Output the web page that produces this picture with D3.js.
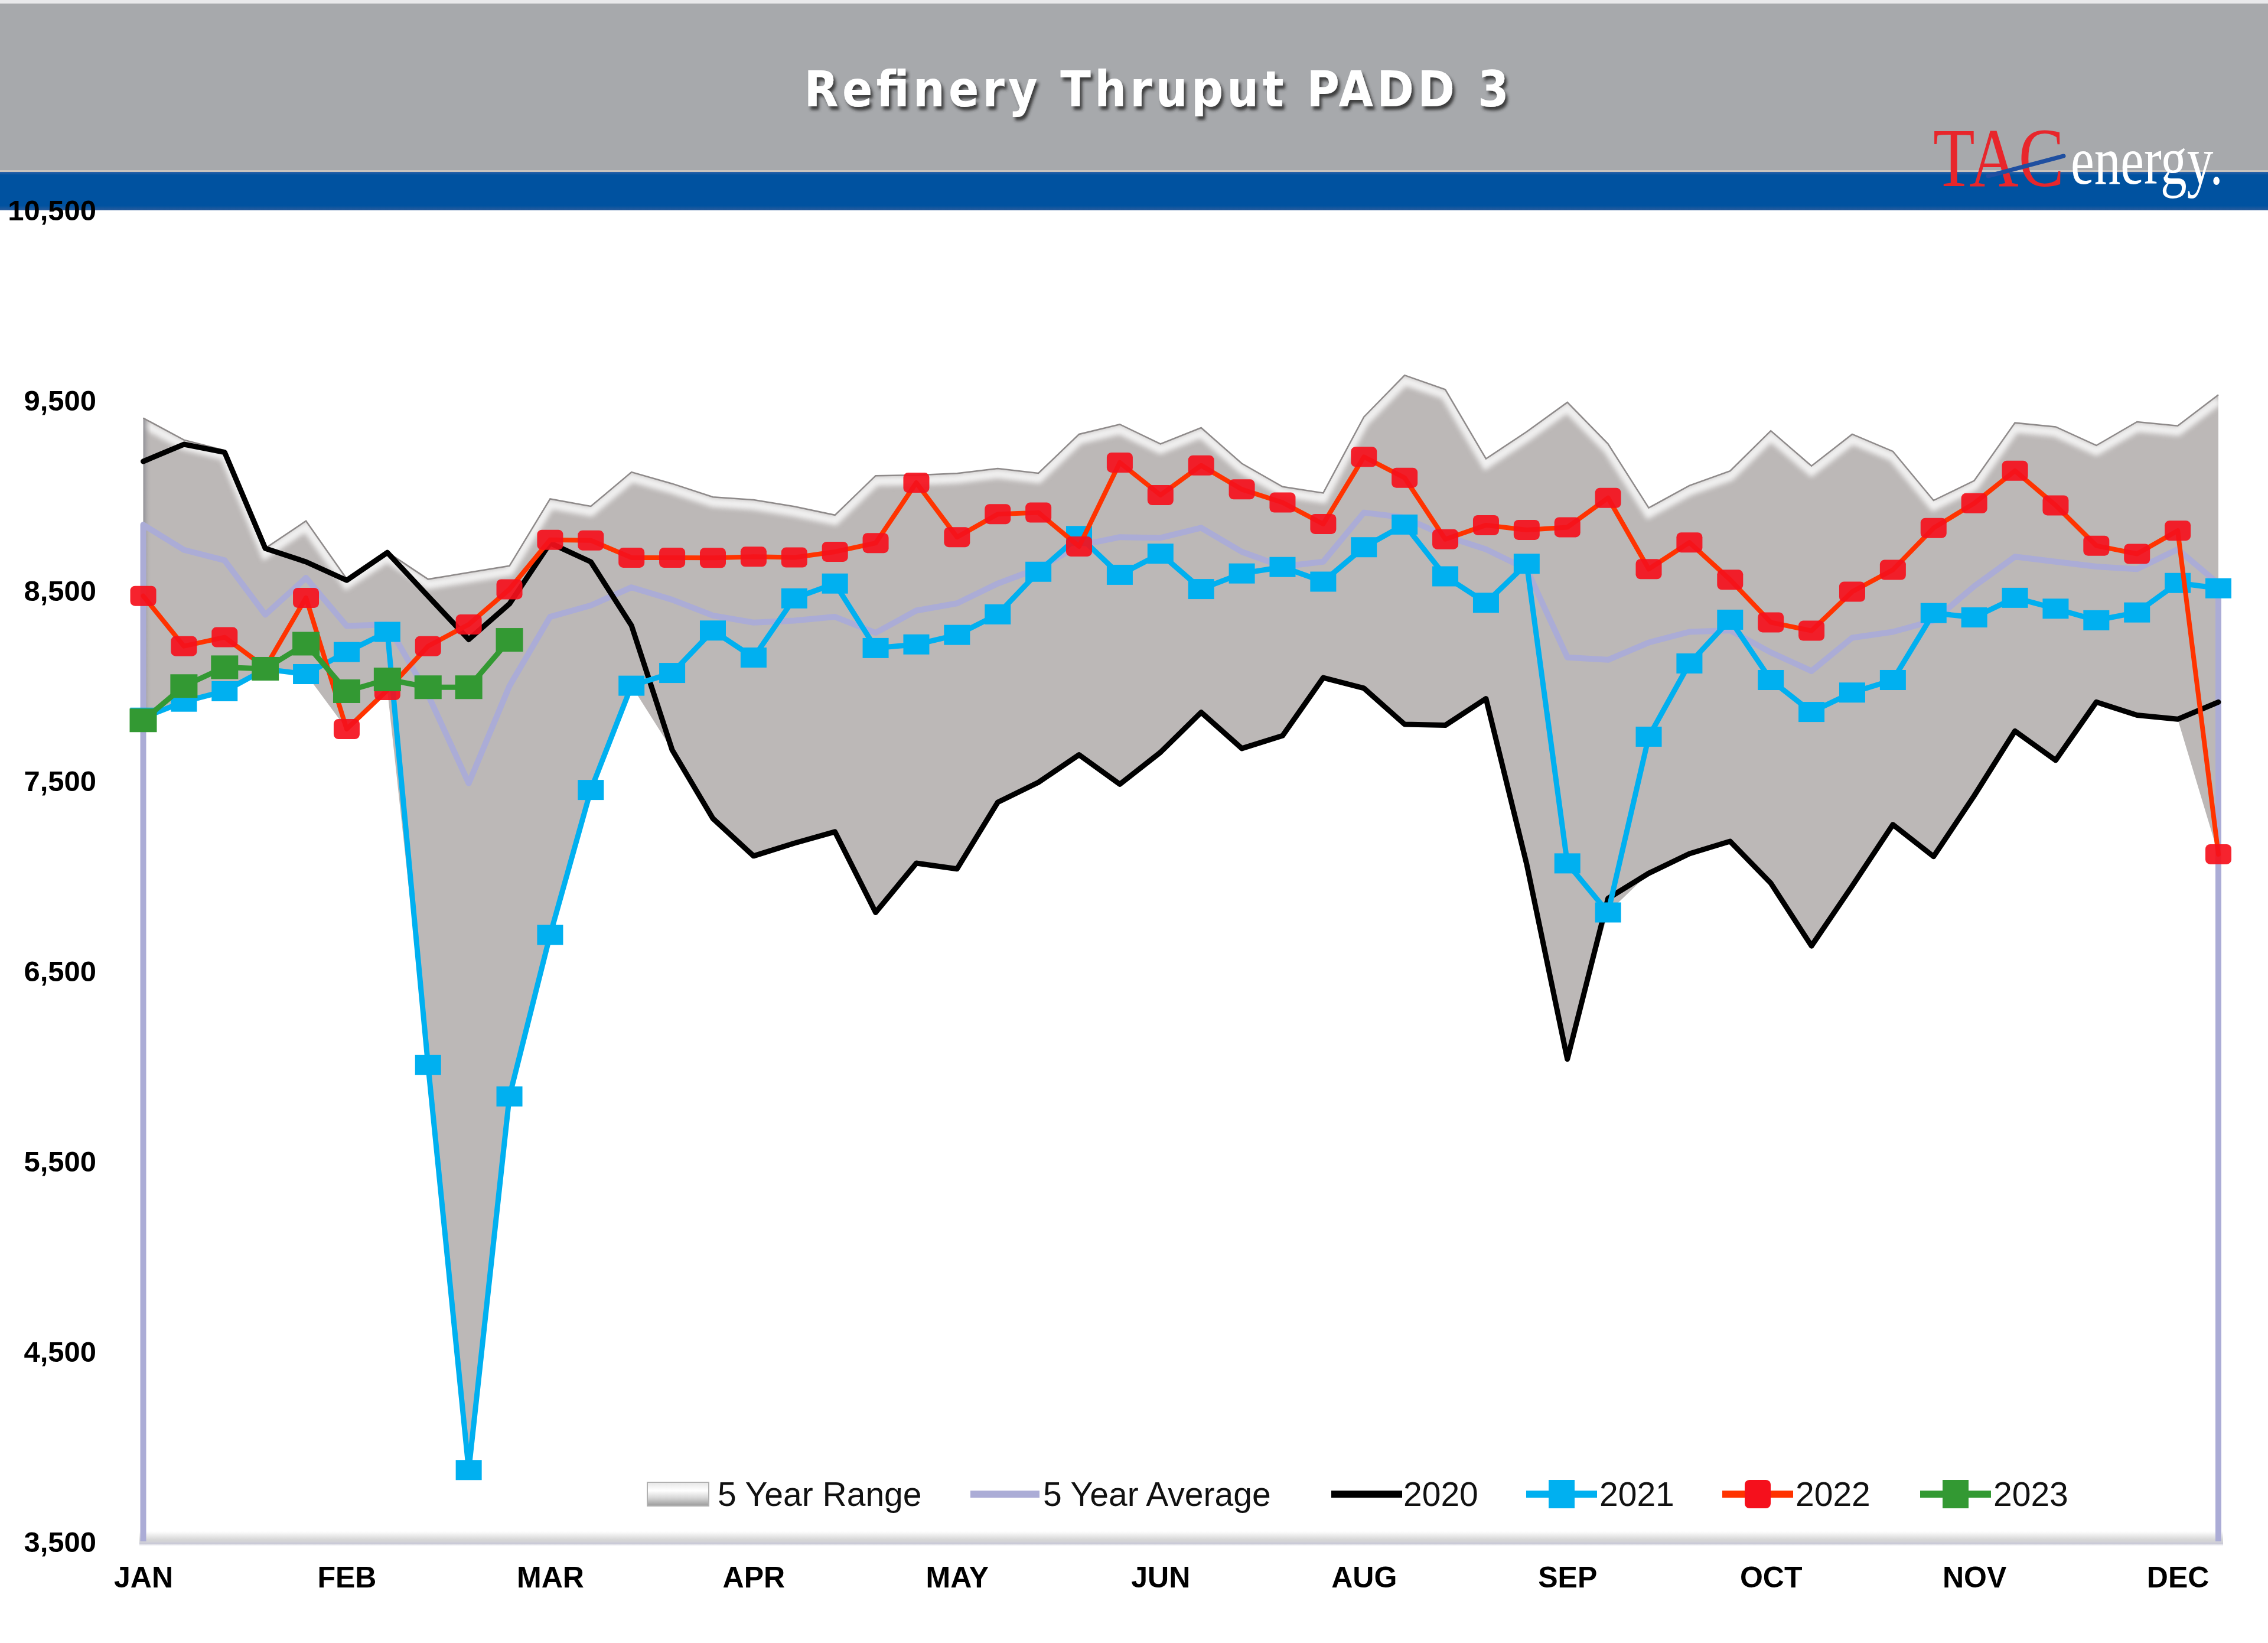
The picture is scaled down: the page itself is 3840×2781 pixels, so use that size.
<!DOCTYPE html>
<html><head><meta charset="utf-8">
<script src="https://cdn.jsdelivr.net/npm/d3@7"></script>
<style>html,body{margin:0;padding:0;background:#fff;} svg{display:block}</style>
</head><body>
<script>
// ---------- DATA ----------
const weeks = [1,2,3,4,5,6,7,8,9,10,11,12,13,14,15,16,17,18,19,20,21,22,23,24,25,26,
  27,28,29,30,31,32,33,34,35,36,37,38,39,40,41,42,43,44,45,46,47,48,49,50,51,52];
const monthLabels = ["JAN","FEB","MAR","APR","MAY","JUN","AUG","SEP","OCT","NOV","DEC"];
const monthTickWeeks = [1,6,11,16,21,26,31,36,41,46,51];
const yTicks = [3500,4500,5500,6500,7500,8500,9500,10500];

const rangeMax = [9405,9290,9235,8720,8864,8560,8700,8558,8593,8628,8980,8941,9121,9060,8990,8975,8940,8895,9102,9105,
  9114,9140,9115,9320,9372,9269,9354,9166,9044,9011,9411,9630,9555,9191,9333,9488,9269,8933,9050,9127,
  9338,9153,9320,9230,8972,9076,9380,9359,9261,9385,9364,9527];
const rangeMin = [7826,7914,7969,8085,8059,7770,7975,6004,3875,5839,6688,7450,7998,7660,7300,7103,7170,7230,6806,7065,
  7035,7385,7490,7635,7480,7648,7858,7668,7735,8040,7985,7795,7790,7930,7060,6035,6806,7012,7115,7180,
  6960,6630,6945,7268,7100,7420,7760,7606,7912,7843,7822,7112];
const avg5 = [8844,8712,8657,8371,8565,8312,8320,7950,7485,7996,8360,8420,8515,8450,8367,8330,8340,8360,8276,8393,
  8431,8535,8615,8735,8779,8775,8828,8702,8624,8650,8908,8882,8785,8715,8611,8147,8134,8225,8281,8289,
  8173,8075,8250,8281,8340,8521,8676,8650,8624,8611,8715,8534];
const y2020 = [9177,9267,9225,8720,8649,8552,8698,8469,8241,8428,8748,8649,8314,7660,7300,7103,7170,7230,6806,7065,
  7035,7385,7490,7635,7480,7648,7858,7668,7735,8040,7985,7795,7790,7930,7060,6035,6880,7012,7115,7180,
  6960,6630,6945,7268,7100,7420,7760,7606,7912,7843,7822,7912];
const y2021 = [7830,7914,7969,8085,8059,8175,8281,6004,3875,5839,6688,7450,7998,8065,8288,8146,8457,8535,8196,8215,
  8265,8373,8597,8785,8581,8692,8506,8588,8622,8545,8726,8845,8573,8434,8639,7064,6806,7730,8115,8345,
  8028,7860,7962,8028,8380,8357,8460,8403,8342,8383,8538,8510];
const y2022 = [8470,8206,8253,8094,8460,7770,7975,8206,8320,8505,8765,8762,8671,8671,8670,8676,8672,8702,8748,9065,
  8779,8900,8908,8730,9171,9000,9156,9030,8961,8848,9201,9091,8768,8842,8817,8831,8985,8611,8751,8555,
  8331,8287,8492,8607,8827,8957,9128,8946,8734,8691,8813,7112];
const y2023 = [7816,7996,8095,8087,8219,7969,8031,7990,7990,8239];

const legendNames = ["5 Year Range","5 Year Average","2020","2021","2022","2023"];

// ---------- SETUP ----------
const W = 3840, H = 2781;
const svg = d3.select("body").append("svg").attr("width", W).attr("height", H)
  .attr("xmlns","http://www.w3.org/2000/svg");
const defs = svg.append("defs");

const x = d3.scaleLinear().domain([1, 52]).range([242.5, 3756]);
const y = d3.scaleLinear().domain([3500, 10500]).range([2609, 355]);

// filters / gradients
const fShadow = defs.append("filter").attr("id","tshadow").attr("x","-10%").attr("y","-30%").attr("width","120%").attr("height","170%");
fShadow.append("feDropShadow").attr("dx",4).attr("dy",6).attr("stdDeviation",2.5).attr("flood-color","#2a2a2a").attr("flood-opacity",0.85);

const fBlur = defs.append("filter").attr("id","blur4");
fBlur.append("feGaussianBlur").attr("stdDeviation",4);

const gBlue = defs.append("linearGradient").attr("id","gBlue").attr("x1",0).attr("y1",0).attr("x2",0).attr("y2",1);
gBlue.append("stop").attr("offset","0").attr("stop-color","#2f63a8");
gBlue.append("stop").attr("offset","0.08").attr("stop-color","#0052a0");
gBlue.append("stop").attr("offset","0.88").attr("stop-color","#0052a0");
gBlue.append("stop").attr("offset","1").attr("stop-color","#2a5c9c");

const gBot = defs.append("linearGradient").attr("id","gBot").attr("x1",0).attr("y1",0).attr("x2",0).attr("y2",1);
gBot.append("stop").attr("offset","0").attr("stop-color","#ffffff");
gBot.append("stop").attr("offset","0.6").attr("stop-color","#d6d6d6");
gBot.append("stop").attr("offset","0.85").attr("stop-color","#d0d0d8");
gBot.append("stop").attr("offset","1").attr("stop-color","#f2f2f6");

const gSw = defs.append("linearGradient").attr("id","gSw").attr("x1",0).attr("y1",0).attr("x2",0).attr("y2",1);
gSw.append("stop").attr("offset","0").attr("stop-color","#e6e6e6");
gSw.append("stop").attr("offset","0.35").attr("stop-color","#ffffff");
gSw.append("stop").attr("offset","0.65").attr("stop-color","#d8d8d8");
gSw.append("stop").attr("offset","1").attr("stop-color","#9a9a9a");

const gLeft = defs.append("linearGradient").attr("id","gLeft").attr("x1",0).attr("y1",0).attr("x2",1).attr("y2",0);
gLeft.append("stop").attr("offset","0").attr("stop-color","#8f8f95");
gLeft.append("stop").attr("offset","1").attr("stop-color","#bcb8b7").attr("stop-opacity",0);

// ---------- HEADER ----------
svg.append("rect").attr("x",0).attr("y",0).attr("width",W).attr("height",H).attr("fill","#ffffff");
svg.append("rect").attr("x",0).attr("y",0).attr("width",W).attr("height",6).attr("fill","#e9e9eb");
svg.append("rect").attr("x",0).attr("y",6).attr("width",W).attr("height",285).attr("fill","#a7a9ac");
svg.append("rect").attr("x",0).attr("y",288).attr("width",W).attr("height",3).attr("fill","#c9c4be");
svg.append("rect").attr("x",0).attr("y",291).attr("width",W).attr("height",65).attr("fill","url(#gBlue)");

svg.append("text").attr("x",1958).attr("y",180).attr("text-anchor","middle")
  .attr("font-family","'DejaVu Sans Condensed','DejaVu Sans',sans-serif").attr("font-weight","bold")
  .attr("font-size",84).attr("font-stretch","condensed")
  .attr("textLength",1193).attr("lengthAdjust","spacing")
  .attr("fill","#ffffff").attr("filter","url(#tshadow)")
  .text("Refinery Thruput PADD 3");

// logo: texts scaled horizontally via transform so their boxes stay apart
function logoText(str, x0, y0, size, color, targetW){
  const g = svg.append("g");
  const t = g.append("text").attr("x",0).attr("y",0).attr("font-family","Liberation Serif")
    .attr("font-size",size).attr("fill",color).text(str);
  const nat = t.node().getComputedTextLength() || targetW;
  g.attr("transform",`translate(${x0},${y0}) scale(${targetW/nat},1)`);
  return g;
}
logoText("TAC", 3273, 315, 142, "#e8262b", 222);
logoText("energy.", 3506, 311, 116, "#ffffff", 258);
svg.append("line").attr("x1",3366).attr("y1",298).attr("x2",3494).attr("y2",264)
  .attr("stroke","#1f4fa0").attr("stroke-width",7).attr("stroke-linecap","round");

// ---------- PLOT ----------
const plot = svg.append("g");

// bottom axis band
plot.append("rect").attr("x",236).attr("y",2592).attr("width",3528).attr("height",24).attr("fill","url(#gBot)");
plot.append("line").attr("x1",236).attr("x2",3764).attr("y1",y(3500)+3).attr("y2",y(3500)+3)
  .attr("stroke","#c9c9d6").attr("stroke-width",2);

// 5 year range area
const idx = weeks.map((w,i)=>i);
const area = d3.area().x(i=>x(weeks[i])).y0(i=>y(rangeMin[i])).y1(i=>y(rangeMax[i]));
const topLine = d3.line().x(i=>x(weeks[i])).y(i=>y(rangeMax[i]));

defs.append("clipPath").attr("id","rangeClip").append("path").attr("d", area(idx));
plot.append("path").attr("d", area(idx)).attr("fill","#bcb8b7");
const hl = plot.append("g").attr("clip-path","url(#rangeClip)");
hl.append("path").attr("d", topLine(idx)).attr("transform","translate(0,9)")
  .attr("fill","none").attr("stroke","#f7f7f7").attr("stroke-width",16).attr("opacity",0.9).attr("filter","url(#blur4)");
hl.append("rect").attr("x",x(1)).attr("y",y(10500)).attr("width",14).attr("height",y(3500)-y(10500)).attr("fill","url(#gLeft)");
plot.append("path").attr("d", topLine(idx)).attr("fill","none").attr("stroke","#8e8a8a").attr("stroke-width",2.5);

// 5 year average (outline drops to baseline at both ends)
const avgPts = [[x(weeks[0]), y(3500)]]
  .concat(idx.map(i=>[x(weeks[i]), y(avg5[i])]))
  .concat([[x(weeks[51]), y(3500)]]);
plot.append("path").attr("d", d3.line()(avgPts)).attr("fill","none")
  .attr("stroke","#abacd6").attr("stroke-width",10).attr("stroke-linejoin","round");

// series lines
function drawSeries(vals, color, lw, markerColor, mw, mh, rx, opacity){
  const ii = vals.map((v,i)=>i);
  const ln = d3.line().x(i=>x(weeks[i])).y(i=>y(vals[i]));
  const g = plot.append("g");
  g.append("path").attr("d", ln(ii)).attr("fill","none").attr("stroke",color)
    .attr("stroke-width",lw).attr("stroke-linejoin","round").attr("stroke-linecap","round");
  if (markerColor){
    g.selectAll("rect").data(ii).join("rect")
      .attr("x", i=>x(weeks[i]) - mw/2).attr("y", i=>y(vals[i]) - mh/2)
      .attr("width", mw).attr("height", mh).attr("rx", rx).attr("fill", markerColor)
      .attr("opacity", opacity || 1);
  }
}
drawSeries(y2020, "#000000", 9, null);
drawSeries(y2021, "#00b0f0", 9, "#00b0f0", 44, 34, 0, 1);
drawSeries(y2022, "#ff3300", 8, "#f5101c", 44, 34, 8, 0.92);
drawSeries(y2023, "#339933", 9, "#339933", 46, 40, 0, 1);

// ---------- AXES ----------
const yAxis = d3.axisLeft(y).tickValues(yTicks).tickFormat(d3.format(",")).tickSize(0).tickPadding(0);
const gy = svg.append("g").attr("transform","translate(163,0)").call(yAxis);
gy.select(".domain").remove();
gy.selectAll("text").attr("font-family","Liberation Sans").attr("font-weight","bold")
  .attr("font-size",49).attr("fill","#000").attr("dy","0.35em");

const xAxis = d3.axisBottom(x).tickValues(monthTickWeeks)
  .tickFormat((d,i)=>monthLabels[i]).tickSize(0).tickPadding(0);
const gx = svg.append("g").attr("transform","translate(0,2651)").call(xAxis);
gx.select(".domain").remove();
gx.selectAll("text").attr("font-family","Liberation Sans").attr("font-weight","bold")
  .attr("font-size",50).attr("fill","#000").attr("dy","0.71em");

// ---------- LEGEND ----------
const lg = svg.append("g").attr("font-family","Liberation Sans").attr("font-size",57).attr("fill","#111");
const ly = 2529;
lg.append("rect").attr("x",1096).attr("y",2509).attr("width",104).attr("height",40)
  .attr("fill","url(#gSw)").attr("stroke","#b0b0b0").attr("stroke-width",2);
lg.append("text").attr("x",1215).attr("y",ly+20).text(legendNames[0]);

lg.append("line").attr("x1",1643).attr("x2",1760).attr("y1",ly).attr("y2",ly).attr("stroke","#abacd6").attr("stroke-width",12);
lg.append("text").attr("x",1766).attr("y",ly+20).text(legendNames[1]);

lg.append("line").attr("x1",2254).attr("x2",2374).attr("y1",ly).attr("y2",ly).attr("stroke","#000").attr("stroke-width",12);
lg.append("text").attr("x",2376).attr("y",ly+20).text(legendNames[2]);

const legendMarked = [
  {x1:2584, x2:2704, c:"#00b0f0", m:"#00b0f0", tx:2708, name:legendNames[3], rx:0},
  {x1:2916, x2:3036, c:"#ff3300", m:"#f5101c", tx:3040, name:legendNames[4], rx:8},
  {x1:3251, x2:3371, c:"#339933", m:"#339933", tx:3375, name:legendNames[5], rx:0}
];
legendMarked.forEach(d=>{
  lg.append("line").attr("x1",d.x1).attr("x2",d.x2).attr("y1",ly).attr("y2",ly).attr("stroke",d.c).attr("stroke-width",12);
  lg.append("rect").attr("x",(d.x1+d.x2)/2-22).attr("y",ly-24).attr("width",44).attr("height",48).attr("rx",d.rx).attr("fill",d.m);
  lg.append("text").attr("x",d.tx).attr("y",ly+20).text(d.name);
});
</script>
</body></html>
